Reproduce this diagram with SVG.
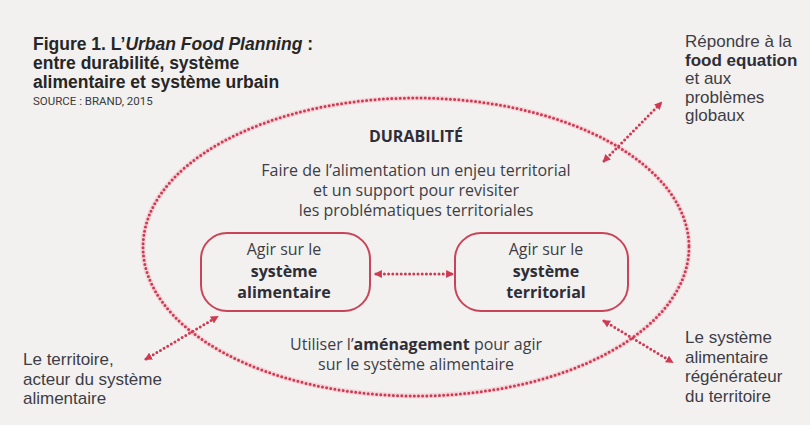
<svg xmlns="http://www.w3.org/2000/svg" width="810" height="425" viewBox="0 0 810 425">
<defs>
<style>
.t{font-family:"Open Sans","Liberation Sans",sans-serif;font-size:16px;fill:#3e3d45}
.s{font-family:"Liberation Sans",Arial,sans-serif;font-size:17px;fill:#3e3d45}
.b{font-weight:bold;fill:#2f2e36}
.ttl{font-family:"Liberation Sans",Arial,sans-serif;font-size:17.5px;font-weight:bold;fill:#262626}
.src{font-family:Roboto,"Liberation Sans",sans-serif;font-size:11.5px;fill:#3a3a3a}
.halo{fill:none;stroke:#f2b5bf;stroke-width:5;stroke-opacity:0.45}
.dot{fill:none;stroke:#cf3a53;stroke-width:3;stroke-dasharray:0 4.2;stroke-linecap:round}
.box{fill:none;stroke:#c94459;stroke-width:2}
.arr{fill:none;stroke:#cf3a53;stroke-width:3;stroke-dasharray:0 4.2;stroke-linecap:round;marker-start:url(#ah);marker-end:url(#ah)}
</style>
<marker id="ah" viewBox="0 0 8 8" refX="6" refY="4" markerWidth="2.6" markerHeight="2.6" orient="auto-start-reverse" markerUnits="strokeWidth">
<path d="M0,0 L8,4 L0,8 Z" fill="#cf3a53"/>
</marker>
</defs>
<rect width="810" height="425" fill="#f2f1f0"/>

<g id="title">
<text class="ttl" x="33" y="50">Figure 1. L’<tspan font-style="italic">Urban Food Planning</tspan> :</text>
<text class="ttl" x="33" y="69">entre durabilité, système</text>
<text class="ttl" x="33" y="88">alimentaire et système urbain</text>
<text class="src" x="33" y="105">SOURCE : BRAND, 2015</text>
</g>

<g id="durabilite">
<ellipse class="halo" cx="416" cy="247" rx="273" ry="149"/>
<ellipse class="dot" cx="416" cy="247" rx="273" ry="149"/>
<text class="t b" x="416" y="142" text-anchor="middle">DURABILITÉ</text>
<text class="t" x="416" y="176" text-anchor="middle">Faire de l’alimentation un enjeu territorial</text>
<text class="t" x="416" y="196" text-anchor="middle">et un support pour revisiter</text>
<text class="t" x="416" y="216" text-anchor="middle">les problématiques territoriales</text>
</g>

<g id="systeme-alimentaire">
<rect class="box" x="201" y="233" width="169" height="78" rx="26"/>
<text class="t" x="284" y="255" text-anchor="middle">Agir sur le</text>
<text class="t b" x="284" y="277" text-anchor="middle">système</text>
<text class="t b" x="284" y="298" text-anchor="middle">alimentaire</text>
</g>

<g id="systeme-territorial">
<rect class="box" x="455" y="233" width="173" height="78" rx="26"/>
<text class="t" x="546" y="255" text-anchor="middle">Agir sur le</text>
<text class="t b" x="546" y="277" text-anchor="middle">système</text>
<text class="t b" x="546" y="298" text-anchor="middle">territorial</text>
</g>

<g id="amenagement">
<text class="t" x="416" y="350" text-anchor="middle">Utiliser l’<tspan class="b">aménagement</tspan> pour agir</text>
<text class="t" x="416" y="370" text-anchor="middle">sur le système alimentaire</text>
</g>

<g id="food-equation">
<text class="s" x="685" y="47">Répondre à la</text>
<text class="s b" x="685" y="65.5">food equation</text>
<text class="s" x="685" y="84">et aux</text>
<text class="s" x="685" y="102.5">problèmes</text>
<text class="s" x="685" y="121">globaux</text>
</g>

<g id="territoire-acteur">
<text class="s" x="23" y="365">Le territoire,</text>
<text class="s" x="23" y="385">acteur du système</text>
<text class="s" x="23" y="404">alimentaire</text>
</g>

<g id="systeme-regenerateur">
<text class="s" x="685" y="343">Le système</text>
<text class="s" x="685" y="363">alimentaire</text>
<text class="s" x="685" y="382">régénérateur</text>
<text class="s" x="685" y="402">du territoire</text>
</g>

<g id="connectors">
<line class="arr" x1="376" y1="274" x2="452" y2="274"/>
<line class="arr" x1="604" y1="161" x2="661" y2="103"/>
<line class="arr" x1="146" y1="359" x2="217" y2="317"/>
<line class="arr" x1="604" y1="321" x2="672" y2="362"/>
</g>
</svg>
